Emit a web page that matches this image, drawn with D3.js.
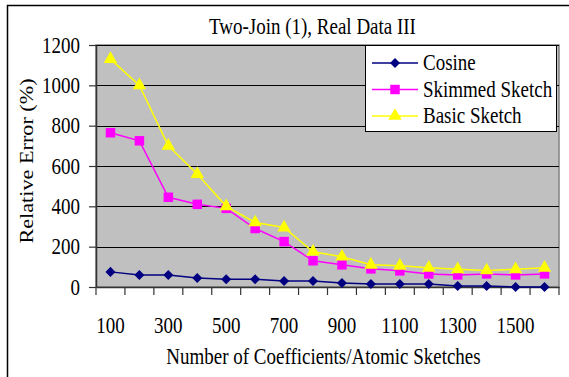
<!DOCTYPE html>
<html>
<head>
<meta charset="utf-8">
<script src="https://cdn.jsdelivr.net/npm/d3@7"></script>
<style>
  body { margin: 0; background: #fff; }
</style>
</head>
<body>
<div class="chart"></div>
<script>
// data
var coefficients = [100, 200, 300, 400, 500, 600, 700, 800, 900, 1000, 1100, 1200, 1300, 1400, 1500, 1600];
var cosine = [75, 60, 60, 45, 38, 38, 30, 30, 20, 15, 15, 15, 5, 5, 0, 0];
var skimmed = [765, 725, 445, 410, 390, 290, 225, 130, 110, 90, 80, 65, 60, 65, 60, 65];
var basic = [1130, 1000, 700, 560, 400, 320, 295, 175, 150, 110, 105, 95, 88, 82, 88, 95];
var yTicks = [0, 200, 400, 600, 800, 1000, 1200];
var xLabels = [100, 300, 500, 700, 900, 1100, 1300, 1500];

var seriesList = [
  {name: "Cosine", values: cosine, color: "#000080", symbol: d3.symbolDiamond2, size: 64},
  {name: "Skimmed Sketch", values: skimmed, color: "#FF00FF", symbol: d3.symbolSquare, size: 90},
  {name: "Basic Sketch", values: basic, color: "#FFFF00", symbol: d3.symbolTriangle, size: 78}
];

var svgWidth = 569, svgHeight = 377;
var plot = {left: 96, right: 559, top: 45, bottom: 287};
var serif = "'Liberation Serif', 'Times New Roman', Times, serif";
var stretch = "scale(1,1.17)"; // the source image text is a little tall

var svg = d3.select(".chart").append("svg")
  .attr("width", svgWidth)
  .attr("height", svgHeight)
  .attr("font-family", serif);

// outer frame (only top and left edges are visible in the crop)
svg.append("path")
  .attr("d", "M7.5," + svgHeight + "V5.5H" + svgWidth)
  .attr("fill", "none")
  .attr("stroke", "#000")
  .attr("stroke-width", 1.5);

var x = d3.scaleBand().domain(coefficients).range([plot.left, plot.right]).padding(0);
var y = d3.scaleLinear().domain([0, 1200]).range([plot.bottom, plot.top]);

// plot background
svg.append("rect")
  .attr("x", plot.left).attr("y", plot.top)
  .attr("width", plot.right - plot.left).attr("height", plot.bottom - plot.top)
  .attr("fill", "#C0C0C0")
  .attr("stroke", "#808080")
  .attr("stroke-width", 1.5);

// grid lines
svg.append("g").selectAll("line")
  .data(yTicks.filter(function(d) { return d > 0; }))
  .enter().append("line")
  .attr("x1", plot.left).attr("x2", plot.right)
  .attr("y1", function(d) { return Math.round(y(d)) + 0.5; })
  .attr("y2", function(d) { return Math.round(y(d)) + 0.5; })
  .attr("stroke", "#000")
  .attr("stroke-width", 1);

// y axis
var leftAxis = d3.axisLeft(y).tickValues(yTicks).tickFormat(d3.format("d"))
  .tickSize(7).tickPadding(9).tickSizeOuter(0);
var gy = svg.append("g")
  .attr("transform", "translate(" + plot.left + ",0)")
  .call(leftAxis)
  .attr("font-family", serif);
gy.select(".domain").attr("stroke", "#333").attr("stroke-width", 1.5);
gy.selectAll(".tick line").attr("stroke", "#333").attr("stroke-width", 1.2);
gy.selectAll(".tick text")
  .style("font-family", serif)
  .style("font-size", "19px")
  .attr("fill", "#000")
  .attr("transform", stretch);

// x axis: labels at category centres, tick marks at category edges
var bottomAxis = d3.axisBottom(x).tickSize(0).tickSizeOuter(0)
  .tickFormat(function(d) { return xLabels.indexOf(d) >= 0 ? d : ""; });
var gx = svg.append("g")
  .attr("transform", "translate(0," + plot.bottom + ")")
  .call(bottomAxis)
  .attr("font-family", serif);
gx.select(".domain").attr("stroke", "#333").attr("stroke-width", 1.5);
gx.selectAll(".tick text")
  .style("font-family", serif)
  .style("font-size", "19px")
  .attr("fill", "#000")
  .attr("y", 39.5).attr("dy", 0)
  .attr("transform", stretch);

var edges = coefficients.map(function(d) { return x(d); }).concat([plot.right]);
gx.selectAll("line.edge")
  .data(edges)
  .enter().append("line")
  .attr("class", "edge")
  .attr("x1", function(d) { return d; }).attr("x2", function(d) { return d; })
  .attr("y1", 0).attr("y2", 8)
  .attr("stroke", "#333")
  .attr("stroke-width", 1.2);

// series lines and markers
var cx = function(i) { return x(coefficients[i]) + x.bandwidth() / 2; };
var line = d3.line()
  .x(function(d, i) { return cx(i); })
  .y(function(d) { return y(d); });

seriesList.forEach(function(s) {
  var g = svg.append("g");
  g.append("path")
    .datum(s.values)
    .attr("d", line)
    .attr("fill", "none")
    .attr("stroke", s.color)
    .attr("stroke-width", 1.5);
  g.selectAll("path.mark")
    .data(s.values)
    .enter().append("path")
    .attr("class", "mark")
    .attr("d", d3.symbol().type(s.symbol).size(s.size))
    .attr("transform", function(d, i) { return "translate(" + cx(i) + "," + y(d) + ")"; })
    .attr("fill", s.color);
});

// legend
var legend = svg.append("g");
legend.append("rect")
  .attr("x", 365.5).attr("y", 45.5)
  .attr("width", 191).attr("height", 86)
  .attr("fill", "#fff")
  .attr("stroke", "#000")
  .attr("stroke-width", 1);

var rows = legend.selectAll("g.row")
  .data(seriesList)
  .enter().append("g")
  .attr("class", "row")
  .attr("transform", function(d, i) { return "translate(0," + (63 + i * 26.5) + ")"; });
rows.append("line")
  .attr("x1", 372).attr("x2", 418)
  .attr("stroke", function(d) { return d.color; })
  .attr("stroke-width", 1.5);
rows.append("path")
  .attr("d", function(d) { return d3.symbol().type(d.symbol).size(d.size)(); })
  .attr("transform", "translate(395,0)")
  .attr("fill", function(d) { return d.color; });
rows.append("text")
  .attr("transform", "translate(423,7) " + stretch)
  .style("font-family", serif)
  .style("font-size", "19px")
  .text(function(d) { return d.name; });

// titles
svg.append("text")
  .attr("transform", "translate(312.5,34) " + stretch)
  .attr("text-anchor", "middle")
  .style("font-family", serif)
  .style("font-size", "19px")
  .text("Two-Join (1), Real Data III");

svg.append("text")
  .attr("transform", "translate(323.5,364) " + stretch)
  .attr("text-anchor", "middle")
  .style("font-family", serif)
  .style("font-size", "19px")
  .text("Number of Coefficients/Atomic Sketches");

svg.append("text")
  .attr("transform", "translate(33,161) rotate(-90) scale(1.17,1)")
  .attr("text-anchor", "middle")
  .style("font-family", serif)
  .style("font-size", "19px")
  .text("Relative Error (%)");
</script>
</body>
</html>
